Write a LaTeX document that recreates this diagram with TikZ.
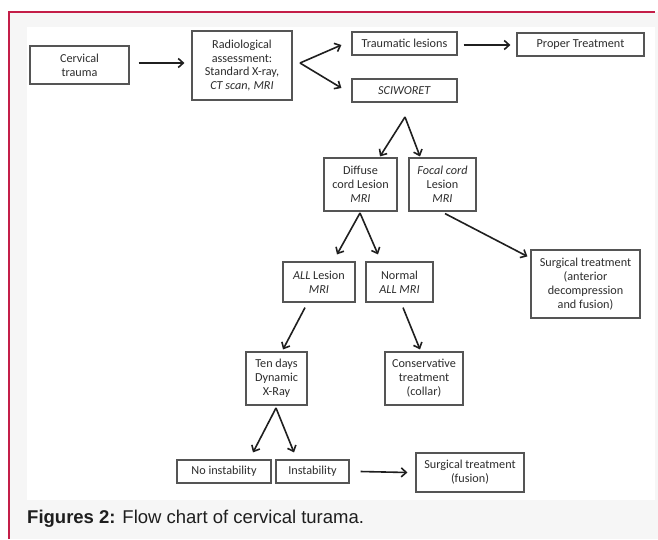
\documentclass[tikz,border=0pt]{standalone}
\usepackage{fontspec}
\setmainfont{Carlito}
\newfontfamily\capfont{Liberation Sans}
\usetikzlibrary{arrows.meta,shadows}
\definecolor{framered}{RGB}{196,30,72}
\definecolor{bggray}{RGB}{246,246,246}
\definecolor{boxline}{RGB}{85,85,85}
\definecolor{txt}{RGB}{45,45,45}
\definecolor{captxt}{RGB}{30,30,30}
\begin{document}
\begin{tikzpicture}[x=1pt,y=-1pt,
  box/.style={draw=boxline, line width=1.15pt, fill=white, align=center, inner sep=0pt,
    font=\fontsize{12.2}{13.9}\selectfont, text=txt,
    drop shadow={shadow xshift=1pt,shadow yshift=-1pt,fill=black,opacity=0.18}},
  arr/.style={draw=black!88, line width=1.6pt, -{Straight Barb[length=5pt,width=9pt]}}]
\useasboundingbox (0,0) rectangle (658,539);
\fill[white] (0,0) rectangle (658,539);
\fill[bggray] (9,12) rectangle (658,539);
\fill[white] (27,27) rectangle (655,500);
\draw[framered, line width=1.2pt] (9,539) -- (9,12) -- (655,12);

\node[box, minimum width=99pt, minimum height=38pt] (cerv) at (79.5,65) {Cervical\\trauma};
\node[box, minimum width=100pt, minimum height=69pt] (radio) at (242,65.5) {Radiological\\assessment:\\Standard X-ray,\\\textit{CT scan, MRI}};
\node[box, minimum width=105pt, minimum height=23pt] (traum) at (404.5,43.5) {Traumatic lesions};
\node[box, minimum width=105pt, minimum height=23pt] (sciw) at (404.5,90.5) {\textit{SCIWORET}};
\node[box, minimum width=127pt, minimum height=23pt] (proper) at (580.5,44.5) {Proper Treatment};
\node[box, minimum width=73pt, minimum height=53pt] (diffuse) at (360.5,184.5) {Diffuse\\cord Lesion\\\textit{MRI}};
\node[box, minimum width=67pt, minimum height=53pt] (focal) at (442.5,184.5) {\textit{Focal cord}\\Lesion\\\textit{MRI}};
\node[box, minimum width=109pt, minimum height=68pt] (surgA) at (585.5,284) {Surgical treatment\\(anterior\\decompression\\and fusion)};
\node[box, minimum width=72pt, minimum height=40pt] (alll) at (319,282) {\textit{ALL} Lesion\\\textit{MRI}};
\node[box, minimum width=67pt, minimum height=40pt] (normal) at (399.5,282) {Normal\\\textit{ALL MRI}};
\node[box, minimum width=61pt, minimum height=53pt] (ten) at (276.5,378.5) {Ten days\\Dynamic\\X-Ray};
\node[box, minimum width=78pt, minimum height=53pt] (cons) at (424,378.5) {Conservative\\treatment\\(collar)};
\node[box, minimum width=94pt, minimum height=23pt] (noinst) at (224,471.5) {No instability};
\node[box, minimum width=73pt, minimum height=23pt] (inst) at (312.5,471.5) {Instability};
\node[box, minimum width=108pt, minimum height=39pt] (surgB) at (470,472.5) {Surgical treatment\\(fusion)};

\coordinate (v1) at (300,63);
\coordinate (v2) at (405,117);
\coordinate (v3) at (360,213);
\coordinate (v4) at (276,408);

\draw[arr] ([xshift=9pt,yshift=2pt]cerv.east) -- ([xshift=-7pt,yshift=2.5pt]radio.west);
\draw[arr] (v1) -- ([xshift=-10pt,yshift=-1.5pt]traum.west);
\draw[arr] (v1) -- ([xshift=-10pt,yshift=2.5pt]sciw.west);
\draw[arr] ([xshift=6pt,yshift=-1.5pt]traum.east) -- ([xshift=-6pt,yshift=-0.5pt]proper.west);
\draw[arr] (v2) -- ([xshift=19.5pt,yshift=1pt]diffuse.north);
\draw[arr] (v2) -- ([xshift=-22.5pt,yshift=1pt]focal.north);
\draw[arr] ([xshift=2.5pt,yshift=-2pt]focal.south) -- ([xshift=-3pt,yshift=-7pt]surgA.north west);
\draw[arr] (v3) -- ([xshift=18pt,yshift=7pt]alll.north);
\draw[arr] (v3) -- ([xshift=-21.5pt,yshift=7pt]normal.north);
\draw[arr] ([xshift=-14pt,yshift=-5pt]alll.south) -- ([xshift=6.5pt,yshift=2pt]ten.north);
\draw[arr] ([xshift=3.5pt,yshift=-5pt]normal.south) -- ([xshift=-4pt,yshift=2pt]cons.north);
\draw[arr] (v4) -- ([xshift=29pt,yshift=7pt]noinst.north);
\draw[arr] (v4) -- ([xshift=-18.5pt,yshift=7pt]inst.north);
\draw[arr] ([xshift=11pt]inst.east) -- ([xshift=-8pt]surgB.west);

\node[anchor=base west, inner sep=0pt, font=\capfont\fontsize{18.5}{21}\selectfont, text=captxt] (cap) at (27,523) {\textbf{Figures 2:} Flow chart of cervical turama.};
\end{tikzpicture}
\end{document}
